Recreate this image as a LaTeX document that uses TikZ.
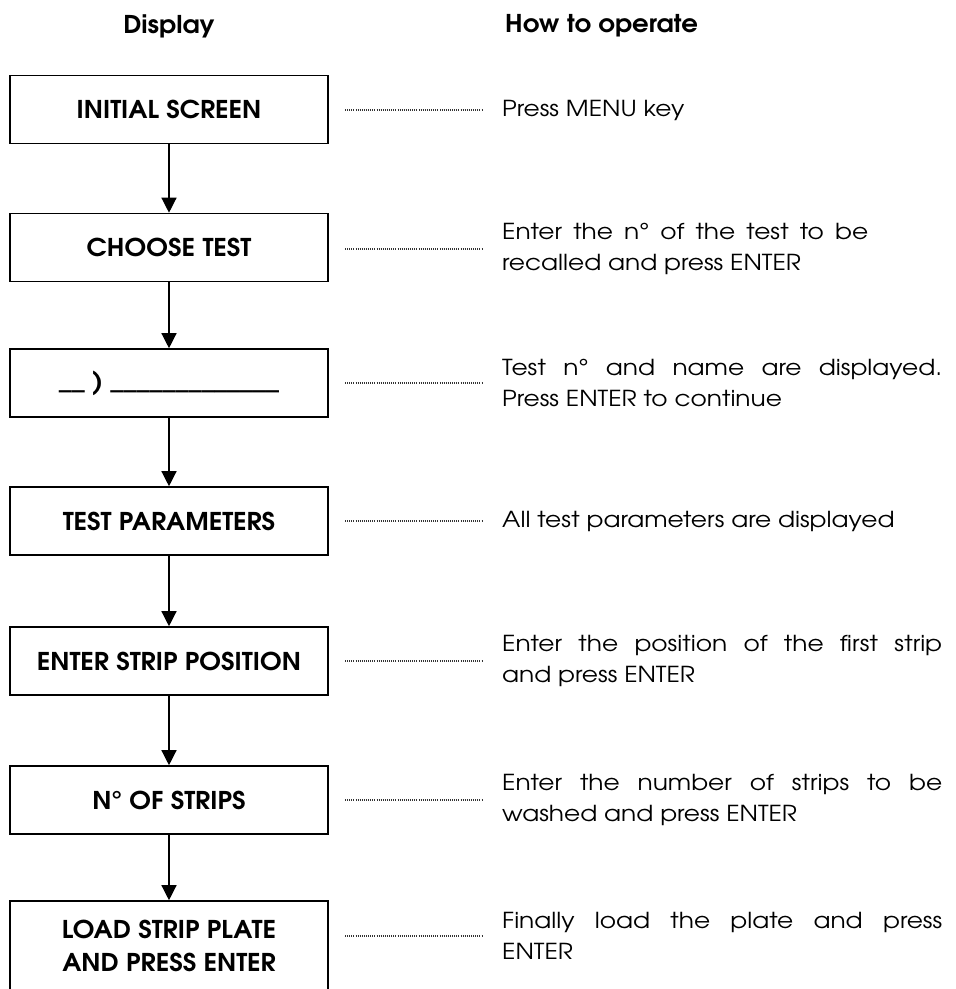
\documentclass[tikz,border=0pt]{standalone}
\usepackage{fontspec}
\setmainfont{texgyreadventor-regular.otf}[BoldFont=texgyreadventor-bold.otf,FakeStretch=1.13]
\newfontfamily\boxfont{texgyreadventor-bold.otf}[FakeStretch=1.06]
\usetikzlibrary{arrows.meta}
\begin{document}
\begin{tikzpicture}[x=1pt,y=-1pt,
  box/.style={draw,line width=1.6pt,minimum width=318pt,minimum height=68pt,
    inner sep=0pt,align=center,font=\boxfont\fontsize{24.5}{33}\selectfont},
  flow/.style={line width=1.3pt,-{Triangle[width=15pt,length=15pt]}},
  dots/.style={line width=1.1pt,black!80,dash pattern=on 1pt off 1.1pt},
  howto/.style={anchor=west,align=left,inner sep=0pt,font=\fontsize{22}{31}\selectfont},
  head/.style={font=\boxfont\fontsize{24.5}{30}\selectfont,inner sep=0pt}]
\useasboundingbox (0,0) rectangle (956,989);
\clip (0,0) rectangle (956,989);
% headers
\node[head] (hd) at (169,26) {Display};
\node[head,anchor=west] (hh) at (505,26) {How to operate};
% boxes
\node[box] (b1) at (169,109.5) {INITIAL SCREEN};
\node[box] (b2) at (169,247.5) {CHOOSE TEST};
\node[box] (b3) at (169,383) {\_\_ ) \_\_\_\_\_\_\_\_\_\_\_\_\_};
\node[box] (b4) at (169,521) {TEST PARAMETERS};
\node[box] (b5) at (169,661) {ENTER STRIP POSITION};
\node[box] (b6) at (169,800) {N° OF STRIPS};
\node[box,minimum height=100pt,text depth=10pt] (b7) at (169,951) {LOAD STRIP PLATE\\AND PRESS ENTER};
% arrows
\draw[flow] (b1) -- (b2);
\draw[flow] (b2) -- (b3);
\draw[flow] (b3) -- (b4);
\draw[flow] (b4) -- (b5);
\draw[flow] (b5) -- (b6);
\draw[flow] (b6.south) -- (b7.north);
% instructions
\node[howto] (t1) at (502,110) {Press MENU key};
\node[howto] (t2) at (502,249) {\makebox[366pt][s]{Enter the n° of the test to be}\\recalled and press ENTER};
\node[howto] (t3) at (502,383) {\makebox[440pt][s]{Test n° and name are displayed.}\\Press ENTER to continue};
\node[howto] (t4) at (502,521) {All test parameters are displayed};
\node[howto] (t5) at (502,661) {\makebox[440pt][s]{Enter the position of the first strip}\\and press ENTER};
\node[howto] (t6) at (502,800) {\makebox[440pt][s]{Enter the number of strips to be}\\washed and press ENTER};
\node[howto] (t7) at (502,936) {\makebox[440pt][s]{Finally load the plate and press}\\ENTER};
% dotted leaders
\foreach \i in {1,...,7} {
  \coordinate (d\i) at ([xshift=-20pt]t\i.west);
  \draw[dots] ([xshift=-137pt]d\i) -- (d\i);
}
\end{tikzpicture}
\end{document}
